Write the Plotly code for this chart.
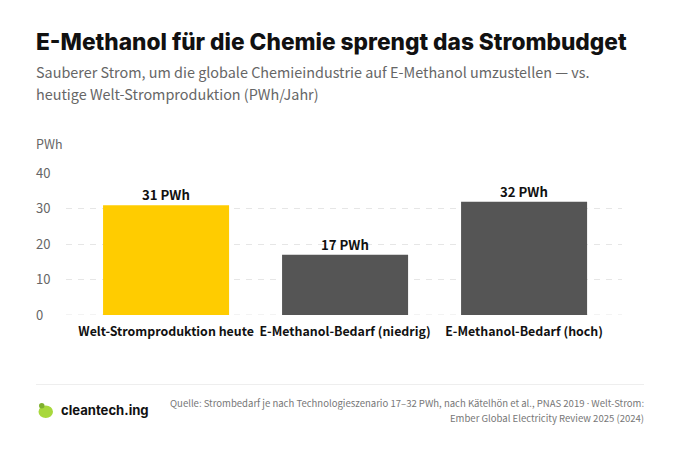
import plotly.graph_objects as go

# data
categories = ['Welt-Stromproduktion heute', 'E-Methanol-Bedarf (niedrig)', 'E-Methanol-Bedarf (hoch)']
values = [31, 17, 32]
bar_labels = ['31 PWh', '17 PWh', '32 PWh']
bar_colors = ['#ffcc00', '#555555', '#555555']
y_ticks = [0, 10, 20, 30, 40]

W, H = 680, 453
BODY = 'Noto Sans CJK SC'
HEAD = 'Inter'
DOT = '<span style="font-family:Noto Sans">·</span>'

fig = go.Figure()
fig.add_trace(go.Bar(
    x=categories, y=values, marker=dict(color=bar_colors, line_width=0),
    hoverinfo='skip',
))

# value labels, a bit closer to the bars than textposition outside puts them
for cat, val, lab in zip(categories, values, bar_labels):
    fig.add_annotation(x=cat, y=val, text=lab, showarrow=False, yanchor='bottom', yshift=-1,
                       font=dict(family=BODY, size=13.2, color='#111111', weight=600))

def add_text(x, y, text, size, color, family=BODY, anchor='left', weight=None):
    fig.add_annotation(xref='paper', yref='paper', x=x / W, y=1 - y / H, text=text, showarrow=False,
                       xanchor=anchor, yanchor='middle', align=anchor,
                       font=dict(family=family, size=size, color=color, weight=weight))

add_text(33.5, 41, 'E-Methanol für die Chemie sprengt das Strombudget', 22.7, '#111111', HEAD, weight=800)
add_text(33.5, 71, 'Sauberer Strom, um die globale Chemieindustrie auf E-Methanol umzustellen — vs.', 14.4, '#666666')
add_text(33.5, 94, 'heutige Welt-Stromproduktion (PWh/Jahr)', 14.4, '#666666')
add_text(33.5, 143.5, 'PWh', 12.5, '#666666')

# y tick labels sit left aligned at the page margin
for t in y_ticks:
    fig.add_annotation(xref='paper', yref='y', x=33.5 / W, y=t, text=str(t), showarrow=False, xanchor='left',
                       yanchor='middle', yshift=1, font=dict(family=BODY, size=13, color='#666666'))

# footer
add_text(59, 410, 'cleantech.ing', 13.1, '#111111', HEAD, weight=700)
add_text(646, 402.5, 'Quelle: Strombedarf je nach Technologieszenario 17–32 PWh, nach Kätelhön et al., PNAS 2019 ' + DOT + ' Welt-Strom:',
         9.55, '#777777', anchor='right')
add_text(646, 417.5, 'Ember Global Electricity Review 2025 (2024)', 9.55, '#777777', anchor='right')

# footer rule and logo
fig.add_shape(type='line', xref='paper', yref='paper', x0=36 / W, x1=644 / W, y0=1 - 384.5 / H, y1=1 - 384.5 / H,
              line=dict(color='#eeeeee', width=1))
fig.add_shape(type='circle', xref='paper', yref='paper', x0=38.5 / W, x1=53 / W, y0=1 - 418 / H, y1=1 - 405.5 / H,
              fillcolor='#a8d83c', line_width=0)
fig.add_shape(type='circle', xref='paper', yref='paper', x0=39 / W, x1=44.5 / W, y0=1 - 408.5 / H, y1=1 - 403 / H,
              fillcolor='#7fb02e', line_width=0)
# dashed line at zero, the grid skips it
fig.add_shape(type='line', xref='paper', yref='y', x0=66 / W, x1=622 / W, y0=0, y1=0, layer='below',
              line=dict(color='#e6e6e6', width=1, dash='6px,6px'))

# no margins, so paper coordinates are the whole picture
fig.update_layout(
    width=W, height=H, autosize=False, showlegend=False,
    paper_bgcolor='white', plot_bgcolor='white',
    margin=dict(l=0, r=0, t=0, b=0),
    bargap=0.296,
    xaxis=dict(domain=[66 / W, 622 / W], range=[-0.559, 2.547], showgrid=False, zeroline=False, showline=False,
               ticks='', tickangle=0, fixedrange=True, automargin=False, ticklabelstandoff=8,
               tickfont=dict(family=BODY, size=12.4, color='#111111', weight=600)),
    yaxis=dict(domain=[1 - 315 / H, 1 - 173.5 / H], range=[0, 40], tickvals=y_ticks, showgrid=True,
               gridcolor='#e6e6e6', griddash='6px,6px', gridwidth=1, zeroline=False,
               showline=False, ticks='', automargin=False, fixedrange=True, showticklabels=False),
    font=dict(family=BODY),
)

# the page has a default body margin
fig.write_html("out.html", config=dict(displayModeBar=False), post_script="document.body.style.margin='0';")
